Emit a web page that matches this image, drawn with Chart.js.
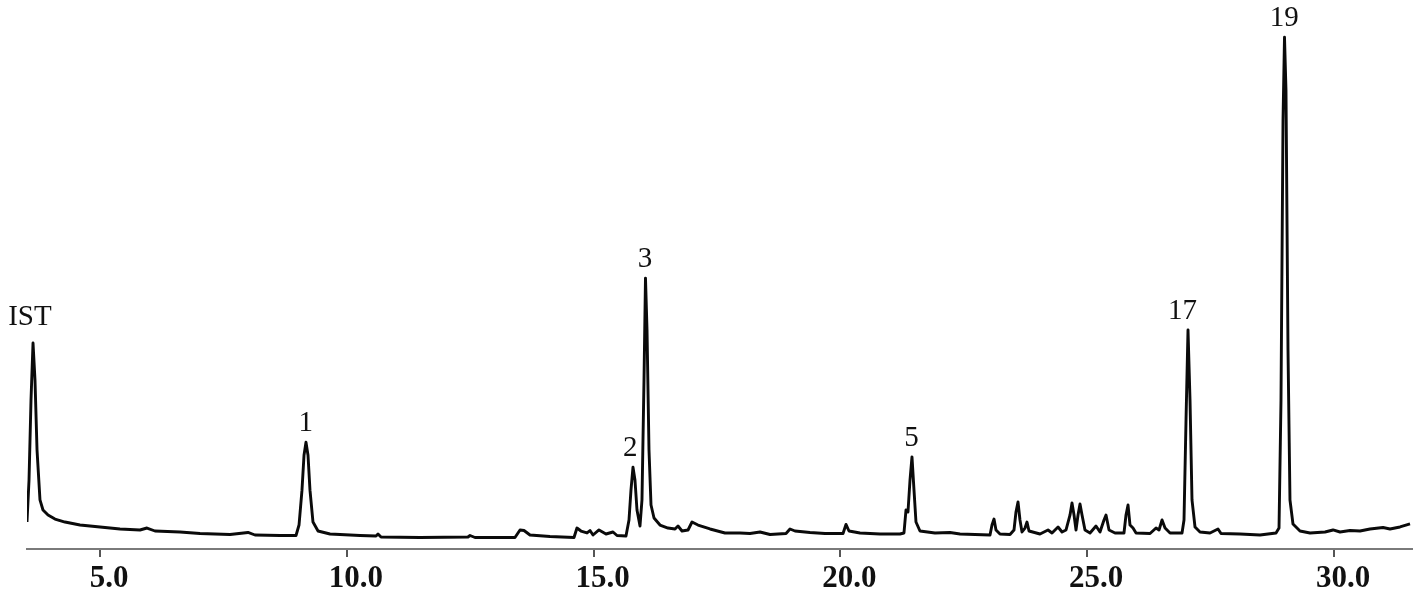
<!DOCTYPE html>
<html>
<head>
<meta charset="utf-8">
<script src="https://cdn.jsdelivr.net/npm/chart.js@4.4.1/dist/chart.umd.min.js"></script>
<style>
  html, body { margin: 0; padding: 0; background: #ffffff; }
  #wrap { width: 1417px; height: 595px; }
</style>
</head>
<body>
<div id="wrap"><canvas id="c" width="1417" height="595"></canvas></div>
<script>
// Retention time (min) of each trace point
const retentionTime = [
  3.521, 3.562, 3.602, 3.643, 3.683, 3.724, 3.784, 3.845, 3.947, 4.088, 4.291, 4.595, 5.000, 5.405, 5.810, 5.952, 6.114, 6.621, 7.026, 7.634,
  7.998, 8.140, 8.647, 8.971, 9.032, 9.092, 9.133, 9.173, 9.214, 9.254, 9.315, 9.417, 9.660, 10.267, 10.592, 10.632, 10.693, 11.483, 12.455, 12.496,
  12.597, 13.407, 13.509, 13.590, 13.711, 14.116, 14.603, 14.663, 14.744, 14.866, 14.927, 14.988, 15.109, 15.251, 15.393, 15.474, 15.656, 15.717, 15.757, 15.798,
  15.838, 15.879, 15.940, 15.980, 16.021, 16.051, 16.082, 16.122, 16.163, 16.224, 16.345, 16.507, 16.649, 16.710, 16.791, 16.913, 16.994, 17.115, 17.358, 17.662,
  17.966, 18.168, 18.371, 18.574, 18.898, 18.979, 19.080, 19.384, 19.688, 20.053, 20.113, 20.174, 20.397, 20.802, 21.207, 21.288, 21.329, 21.369, 21.410, 21.450,
  21.491, 21.531, 21.612, 21.916, 22.220, 22.423, 22.727, 23.031, 23.071, 23.112, 23.152, 23.233, 23.436, 23.517, 23.557, 23.598, 23.638, 23.679, 23.740, 23.780,
  23.821, 24.044, 24.206, 24.287, 24.409, 24.490, 24.571, 24.652, 24.692, 24.733, 24.773, 24.814, 24.854, 24.895, 24.955, 25.057, 25.178, 25.259, 25.340, 25.381,
  25.442, 25.563, 25.745, 25.786, 25.827, 25.867, 25.928, 25.989, 26.273, 26.394, 26.455, 26.516, 26.577, 26.678, 26.921, 26.961, 27.002, 27.042, 27.083, 27.123,
  27.184, 27.285, 27.488, 27.650, 27.711, 28.096, 28.501, 28.825, 28.886, 28.926, 28.967, 28.997, 29.027, 29.068, 29.108, 29.169, 29.311, 29.514, 29.818, 29.980,
  30.122, 30.324, 30.527, 30.729, 30.993, 31.135, 31.337, 31.540
];
// Detector signal (relative units) at each point
const signal = [
  4.95, 12.66, 27.3, 37.8, 31.0, 18.2, 9.0, 7.16, 6.24, 5.50, 4.95, 4.40, 4.04, 3.67, 3.49, 3.85, 3.30, 3.12, 2.84, 2.66,
  3.03, 2.57, 2.48, 2.48, 4.40, 10.8, 17.2, 19.6, 17.2, 10.8, 4.95, 3.30, 2.75, 2.48, 2.39, 2.75, 2.20, 2.11, 2.20, 2.48,
  2.11, 2.11, 3.49, 3.39, 2.57, 2.29, 2.11, 3.85, 3.30, 2.94, 3.39, 2.57, 3.49, 2.75, 3.12, 2.48, 2.39, 5.32, 10.8, 15.0,
  12.66, 7.16, 4.22, 9.0, 31.0, 49.7, 40.2, 18.2, 8.07, 5.69, 4.40, 3.85, 3.67, 4.22, 3.30, 3.49, 4.95, 4.40, 3.67, 2.94,
  2.94, 2.84, 3.12, 2.66, 2.84, 3.67, 3.30, 3.03, 2.84, 2.84, 4.50, 3.30, 2.94, 2.75, 2.75, 2.94, 7.16, 6.79, 12.66, 16.9,
  10.8, 4.95, 3.30, 2.94, 3.03, 2.75, 2.66, 2.57, 4.40, 5.50, 3.49, 2.75, 2.66, 3.49, 6.79, 8.62, 5.32, 3.12, 3.85, 4.95,
  3.30, 2.75, 3.49, 2.94, 4.04, 3.12, 3.49, 6.24, 8.44, 6.24, 3.49, 6.24, 8.26, 6.24, 3.49, 2.94, 4.22, 3.12, 5.32, 6.24,
  3.49, 2.94, 2.94, 6.24, 8.07, 4.40, 3.85, 2.94, 2.84, 3.85, 3.49, 5.32, 3.85, 2.94, 2.94, 5.32, 23.7, 40.2, 27.3, 9.0,
  4.04, 3.12, 2.94, 3.67, 2.84, 2.75, 2.57, 2.94, 3.85, 27.3, 78.7, 93.9, 84.2, 36.5, 9.0, 4.59, 3.30, 2.94, 3.12, 3.49,
  3.12, 3.39, 3.30, 3.67, 3.94, 3.67, 4.04, 4.59
];
// Peak annotations
const peakLabels = ['IST', '1', '2', '3', '5', '17', '19'];
const peakLabelTime = [3.58, 9.17, 15.74, 16.04, 21.44, 26.93, 28.99];
const peakLabelSignal = [39.0, 19.6, 15.0, 49.7, 16.9, 40.2, 93.9];
// X axis ticks
const xTickValues = [5, 10, 15, 20, 25, 30];
const xTickLabels = ['5.0', '10.0', '15.0', '20.0', '25.0', '30.0'];

const points = retentionTime.map((t, i) => ({ x: t, y: signal[i] }));

const peakLabelPlugin = {
  id: 'peakLabels',
  afterDatasetsDraw(chart) {
    const ctx = chart.ctx;
    const xs = chart.scales.x, ys = chart.scales.y;
    ctx.save();
    ctx.font = '29px "Liberation Serif", "Times New Roman", serif';
    ctx.fillStyle = '#111111';
    ctx.textAlign = 'center';
    ctx.textBaseline = 'alphabetic';
    peakLabels.forEach((lab, i) => {
      const px = xs.getPixelForValue(peakLabelTime[i]);
      const py = ys.getPixelForValue(peakLabelSignal[i]) - 11;
      ctx.fillText(lab, px, py);
    });
    ctx.restore();
  }
};

new Chart(document.getElementById('c'), {
  type: 'line',
  data: {
    datasets: [{
      data: points,
      borderColor: '#0a0a0a',
      borderWidth: 2.9,
      pointRadius: 0,
      tension: 0,
      fill: false,
      borderJoinStyle: 'round'
    }]
  },
  options: {
    responsive: false,
    animation: false,
    devicePixelRatio: 1,
    layout: { padding: { left: 27, right: 5, top: 4, bottom: 0 } },
    plugins: { legend: { display: false }, tooltip: { enabled: false } },
    scales: {
      x: {
        type: 'linear',
        min: 3.521,
        max: 31.58,
        afterBuildTicks: (s) => { s.ticks = xTickValues.map(v => ({ value: v })); },
        afterFit: (s) => { s.height = 46; },
        ticks: {
          autoSkip: false,
          maxRotation: 0,
          padding: 3,
          labelOffset: 9,
          color: '#111111',
          font: { family: '"Liberation Serif", "Times New Roman", serif', weight: 'bold', size: 31 },
          callback: (v, i) => xTickLabels[i]
        },
        grid: { drawOnChartArea: false, drawTicks: true, tickLength: 8, color: '#555555', lineWidth: 2 },
        border: { display: true, color: '#7a7a7a', width: 2 }
      },
      y: {
        display: false,
        min: 0,
        max: 100
      }
    }
  },
  plugins: [peakLabelPlugin]
});
</script>
</body>
</html>
